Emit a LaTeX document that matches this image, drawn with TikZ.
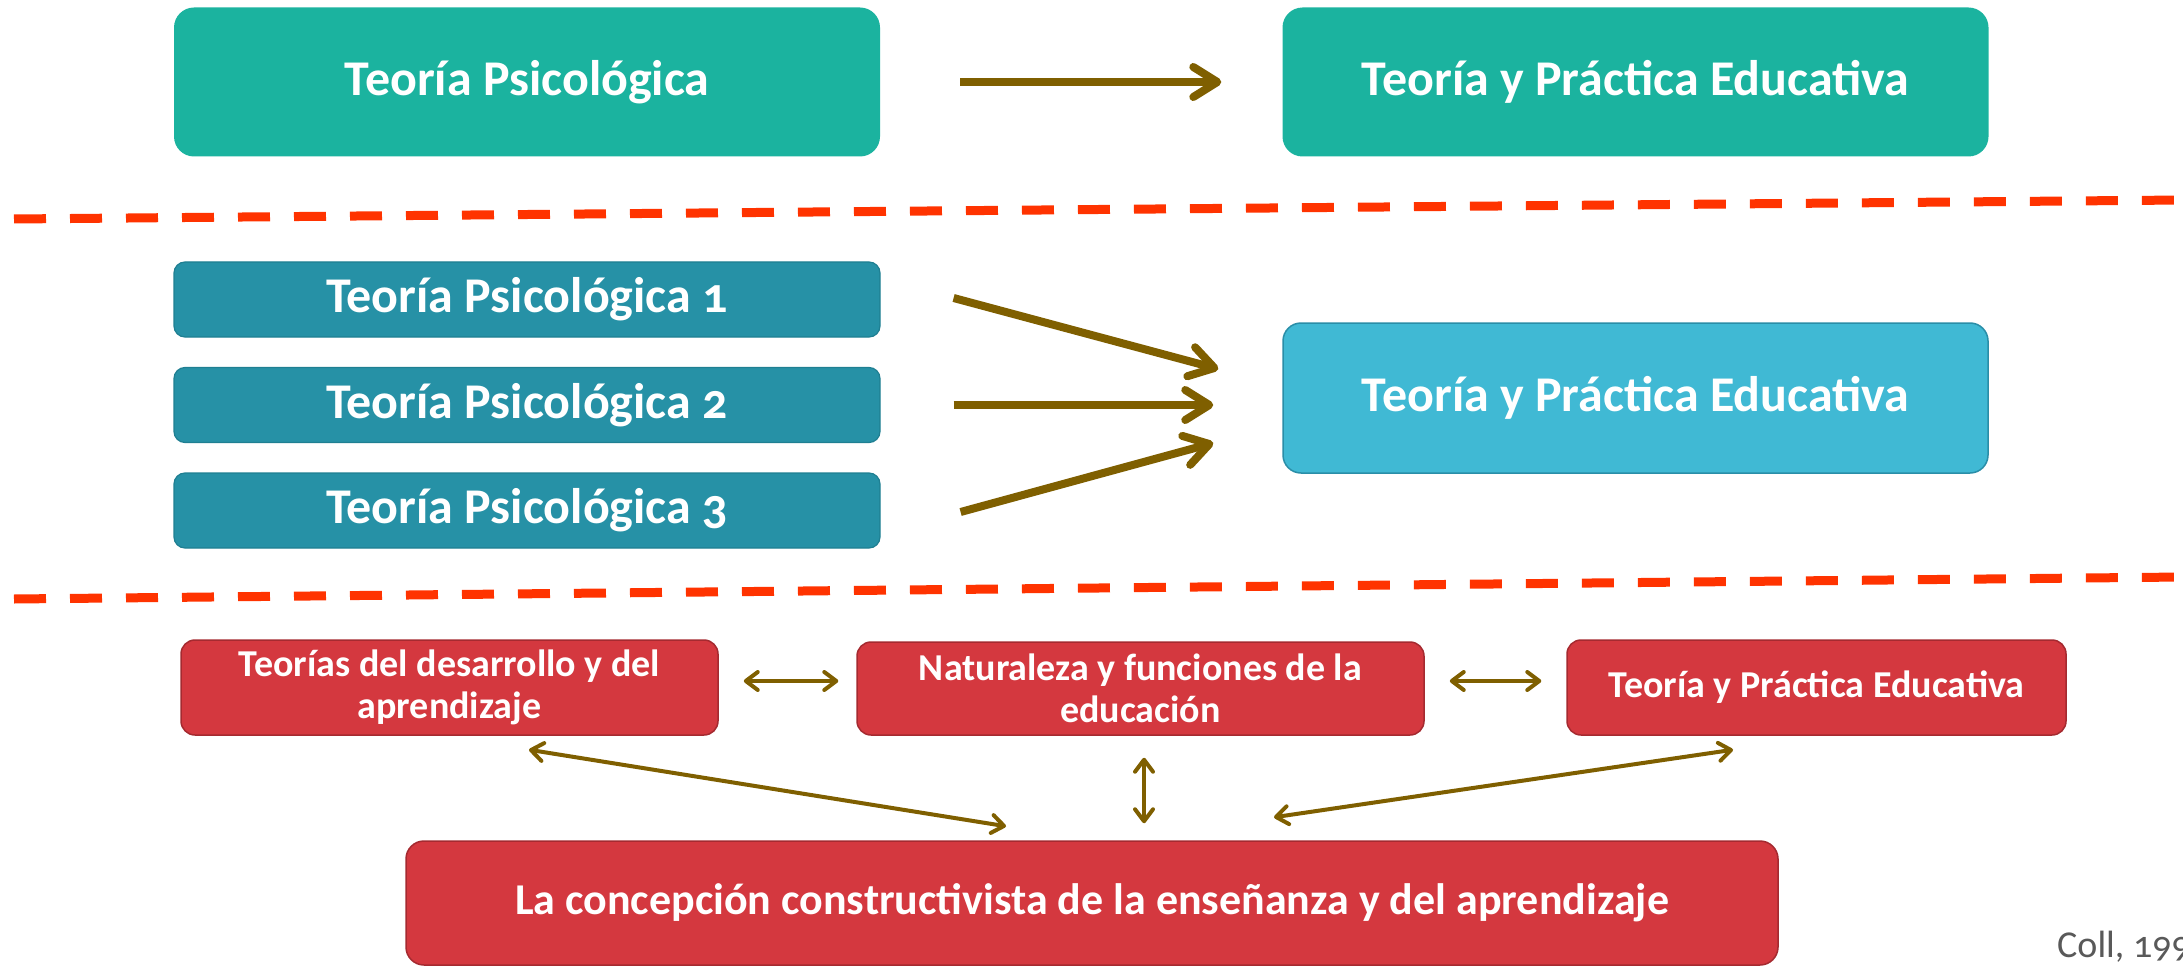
\documentclass[tikz,border=0pt]{standalone}
\usepackage{fontspec}
\setmainfont{Carlito}[Numbers=OldStyle]
\usetikzlibrary{arrows.meta}

\definecolor{tealtop}{HTML}{1BB39F}
\definecolor{tealdark}{HTML}{2691A6}
\definecolor{tealdarkline}{HTML}{1F7F92}
\definecolor{cyanbox}{HTML}{40B9D4}
\definecolor{cyanline}{HTML}{2A8EA8}
\definecolor{redbox}{HTML}{D4383F}
\definecolor{redline}{HTML}{A52A30}
\definecolor{arrowbrown}{HTML}{7F5F00}
\definecolor{sepred}{HTML}{FF3300}
\definecolor{refgrey}{HTML}{595959}

\tikzset{
  topbox/.style={fill=tealtop, rounded corners=20pt, text=white, inner sep=0pt,
    font=\bfseries\fontsize{50}{54}\selectfont, minimum width=706pt, minimum height=149pt},
  theorybox/.style={fill=tealdark, draw=tealdarkline, line width=1.2pt, rounded corners=11pt,
    text=white, inner sep=0pt, font=\bfseries\fontsize{50}{54}\selectfont,
    minimum width=706pt, minimum height=75pt},
  practicebox/.style={fill=cyanbox, draw=cyanline, line width=1.5pt, rounded corners=18pt,
    text=white, inner sep=0pt, font=\bfseries\fontsize{50}{54}\selectfont,
    minimum width=705pt, minimum height=150pt},
  redbox/.style={fill=redbox, draw=redline, line width=1.5pt, rounded corners=14pt,
    text=white, inner sep=0pt, align=center, font=\bfseries\fontsize{38}{42}\selectfont},
  bigarrow/.style={draw=arrowbrown, line width=8pt,
    -{Straight Barb[round, length=24pt, width=30pt]}},
  twoway/.style={draw=arrowbrown, line width=4pt,
    {Straight Barb[round, length=12pt, width=18pt]}-{Straight Barb[round, length=12pt, width=18pt]}},
  separator/.style={draw=sepred, line width=9pt, dash pattern=on 32pt off 24pt}
}

\begin{document}
\begin{tikzpicture}[x=1pt,y=-1pt]
\useasboundingbox (0,0) rectangle (2183,968);

% one theory to practice
\node[topbox] (psy) at (527,82) {Teoría Psicológica};
\node[topbox] (edu) at (1635.5,82) {Teoría y Práctica Educativa};
\draw[bigarrow] ([xshift=80pt]psy.east) -- ([xshift=-61pt]edu.west);

\draw[separator] (14,219) -- (2183,200);

% several theories to practice
\node[theorybox] (psyA) at (527,299.5) {Teoría Psicológica 1};
\node[theorybox] (psyB) at (527,405) {Teoría Psicológica 2};
\node[theorybox] (psyC) at (527,510.5) {Teoría Psicológica 3};
\node[practicebox] (eduB) at (1635.5,398) {Teoría y Práctica Educativa};
\draw[bigarrow] ([shift={(73,-1.5)}]psyA.east) -- ([shift={(-64,-29)}]eduB.west);
\draw[bigarrow] ([xshift=73pt]psyB.east) -- ([shift={(-69,7)}]eduB.west);
\draw[bigarrow] ([shift={(80,1.5)}]psyC.east) -- ([shift={(-69,45)}]eduB.west);

\draw[separator] (14,599) -- (2183,577);

% constructivist conception
\node[redbox, minimum width=537pt, minimum height=95pt] (dev) at (449.5,687.5)
  {Teorías del desarrollo y del\\aprendizaje};
\node[redbox, minimum width=567pt, minimum height=93pt] (nat) at (1140.5,688.5)
  {Naturaleza y funciones de la\\educación};
\node[redbox, minimum width=499pt, minimum height=95pt] (prac) at (1816.5,687.5)
  {Teoría y Práctica Educativa};
\node[redbox, minimum width=1372pt, minimum height=124pt, rounded corners=18pt,
  font=\bfseries\fontsize{44}{48}\selectfont] (cons) at (1092,903)
  {La concepción constructivista de la enseñanza y del aprendizaje};

\draw[twoway] ([shift={(25,-6.5)}]dev.east) -- ([shift={(-18,-7.5)}]nat.west);
\draw[twoway] ([shift={(25,-7.5)}]nat.east) -- ([shift={(-25,-6.5)}]prac.west);
\draw[twoway] ([shift={(79.5,14)}]dev.south) -- ([shift={(-86,-14)}]cons.north);
\draw[twoway] ([shift={(3.5,22)}]nat.south) -- ([shift={(52,-17)}]cons.north);
\draw[twoway] ([shift={(-83.5,14)}]prac.south) -- ([shift={(182,-23)}]cons.north);

\node[anchor=west, inner sep=0pt, text=refgrey, font=\fontsize{38}{42}\selectfont]
  (ref) at (2057,947) {Coll, 199};
\end{tikzpicture}
\end{document}
